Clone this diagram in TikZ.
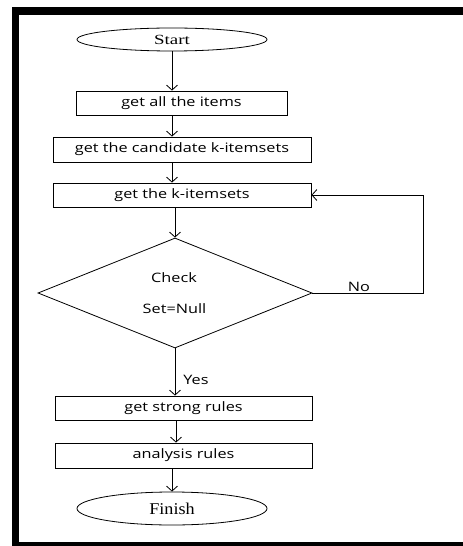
\documentclass[tikz,border=0pt]{standalone}
\usepackage{fontspec}
\usetikzlibrary{shapes.geometric,arrows.meta}
\newfontfamily\boxfont[FakeStretch=1.25]{Open Sans}
\newfontfamily\startfont[FakeStretch=1.35]{Liberation Serif}
\newfontfamily\finfont[FakeStretch=1.1]{Liberation Serif}
\begin{document}
\begin{tikzpicture}[x=1bp,y=-1bp,
  line width=0.8bp,
  stepbox/.style={draw, rectangle, inner sep=0pt, minimum height=24bp,
    font=\boxfont\fontsize{13bp}{15bp}\selectfont},
  term/.style={draw, ellipse, inner sep=0pt, minimum width=190bp},
  lbl/.style={inner sep=0pt, font=\boxfont\fontsize{13bp}{15bp}\selectfont},
  arr/.style={-{Straight Barb[length=5bp,width=11bp]}}]
\useasboundingbox (0,0) rectangle (463,546);
% frame
\fill[black] (12,7) rectangle (463,15);
\fill[black] (12,7) rectangle (19,546);
\fill[black] (12,542) rectangle (463,546);
% nodes
\node[term, minimum height=23bp, font=\startfont\fontsize{14bp}{16bp}\selectfont] (start) at (172,39.5) {Start};
\node[stepbox, minimum width=211bp] (b1) at (181.5,103) {get all the items\hspace{10bp}};
\node[stepbox, minimum width=258bp, minimum height=25bp] (b2) at (182,149.5) {get the candidate k-itemsets};
\node[stepbox, minimum width=258bp] (b3) at (182,195) {get the k-itemsets};
\node[draw, diamond, inner sep=0pt, minimum width=274bp, minimum height=110bp] (dec) at (175,293) {};
\node[lbl] (chk) at (174,277.5) {Check};
\node[lbl] (setn) at (174.5,309) {Set=Null};
\node[stepbox, minimum width=257bp] (b4) at (183.5,408) {get strong rules};
\node[stepbox, minimum width=257bp, minimum height=25bp] (b5) at (183.5,455.5) {analysis rules};
\node[term, minimum height=33bp, font=\finfont\fontsize{16.5bp}{18bp}\selectfont] (fin) at (172,508.5) {Finish};
\coordinate (loopA) at (423,293);
\coordinate (loopB) at (423,195);
\coordinate (x176) at (176,0);
% connectors
\draw[arr] (start.south) -- (start.south |- b1.north);
\draw[arr] (b1.south -| start.south) -- (start.south |- b2.north);
\draw[arr] (b2.south -| start.south) -- (start.south |- b3.north);
\draw[arr] (b3.south -| dec.north) -- (dec.north);
\draw[arr] (dec.south) -- node[lbl, pos=0.66, right=8bp] (yes) {Yes} (dec.south |- b4.north);
\draw[arr] (dec.east) -- (loopA) -- (loopB) -- (b3.east);
\node[lbl] (no) at (359,286.5) {No};
\draw[arr] (b4.south -| x176) -- (b5.north -| x176);
\draw[arr] (b5.south -| fin.north) -- (fin.north);
\end{tikzpicture}
\end{document}
